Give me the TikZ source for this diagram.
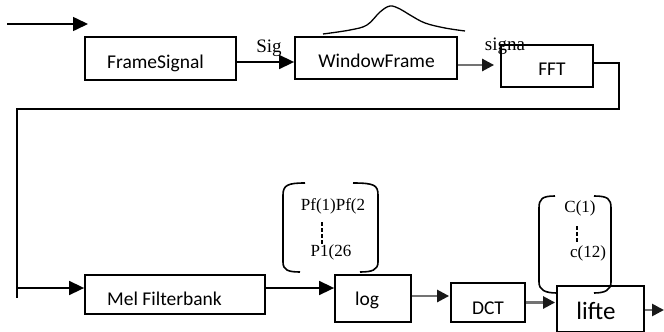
\documentclass[tikz,border=0pt]{standalone}
\usepackage{fontspec}
\setmainfont{Liberation Serif}
\newfontfamily\boxfont{Carlito}
\usetikzlibrary{arrows.meta,calc}
\begin{document}
\begin{tikzpicture}[x=1pt,y=-1pt,
  blk/.style={draw,line width=1.8pt,inner sep=0pt},
  blab/.style={font=\boxfont\fontsize{19.5}{22}\selectfont,inner sep=0pt,anchor=base},
  arr/.style={line width=1.6pt,-{Triangle[length=15pt,width=14pt]}},
  garr/.style={draw=black!55,line width=2.6pt,-{Triangle[length=12pt,width=12pt,color=black!90,fill=black!90]}},
  serif/.style={font=\fontsize{19}{22}\selectfont,inner sep=0pt,anchor=base},
  vec/.style={font=\fontsize{17}{20}\selectfont,inner sep=0pt,anchor=base},
  brk/.style={line width=1.6pt},
  dsh/.style={line width=1.3pt,dash pattern=on 4pt off 2pt},
  wire/.style={line width=1.6pt}
  ]
\useasboundingbox (0,0) rectangle (664,332);

% boxes
\node[blk,minimum width=151pt,minimum height=43pt] (fs) at (160.5,58.5) {};
\node[blk,minimum width=162pt,minimum height=42pt] (wf) at (376,58) {};
\node[blk,minimum width=92pt,minimum height=42pt] (fft) at (547,66) {};
\node[blk,minimum width=180pt,minimum height=39pt] (mel) at (175,294.5) {};
\node[blk,minimum width=76pt,minimum height=47pt] (log) at (373,298.5) {};
\node[blk,minimum width=74pt,minimum height=39pt] (dct) at (488,302.5) {};
\node[blk,minimum width=87pt,minimum height=46pt] (lif) at (600.5,309) {};

% box texts
\node[blab] (fsT) at (155.5,68) {FrameSignal};
\node[blab] (wfT) at (376.5,67) {WindowFrame};
\node[blab] (fftT) at (552,75) {FFT};
\node[blab] (melT) at (164.5,305) {Mel Filterbank};
\node[blab] (logT) at (367,305) {log};
\node[blab] (dctT) at (488,314) {DCT};
\node[blab,font=\boxfont\fontsize{25}{28}\selectfont] (lifT) at (596,319) {lifte};

% labels
\node[serif] (sig) at (269,52) {Sig};
\node[serif] (signa) at (505,50) {signa};
\node[vec] (pf1) at (333,210) {Pf(1)Pf(2};
\node[vec] (pf26) at (331,256) {P1(26};
\node[vec] (c1) at (580,212) {C(1)};
\node[vec] (c12) at (588,257) {c(12)};

% window curve
\draw[line width=1.3pt] plot[smooth,tension=0.6] coordinates {(323,34) (350,30) (367,25) (380,12) (390,6) (400,9) (410,15) (425,23) (445,28) (465,31)};

% brackets
\draw[brk] (305,183) .. controls (288,183) and (283,185) .. (283,195) -- (283,262) .. controls (283,270) and (288,272) .. (300,272);
\draw[brk] (353,183) .. controls (374,183) and (378,185) .. (378,195) -- (378,262) .. controls (378,270) and (372,272) .. (360,272);
\draw[brk] (555,196) .. controls (542,196) and (539,199) .. (539,208) -- (539,282) .. controls (539,290) and (545,293) .. (557,293);
\draw[brk] (594,196) .. controls (608,196) and (611,199) .. (611,208) -- (611,282) .. controls (611,290) and (605,293) .. (594,293);
\draw[dsh] (322,222) -- (322,245);
\draw[dsh] (577,226) -- (577,242);

% connectors
\coordinate (in0) at (7,24);
\coordinate (in1) at (88,24);
\draw[arr] (in0) -- (in1);
\draw[arr] ($(fs.east)+(0,3.5)$) -- ($(fs.east -| wf.west)+(0,3.5)$);
\draw[garr] ($(wf.east)+(0,7)$) -- ($(wf.east -| fft.west)+(-6,7)$);
\coordinate (r1) at (619,109);
\coordinate (l1) at (17,109);
\coordinate (l2) at (17,298);
\coordinate (l3) at (17,288);
\draw[wire] ($(fft.east)+(0,-3)$) -| (r1) -- (l1) -- (l2);
\draw[arr] (l3) -- (l3 -| mel.west);
\draw[arr] ($(mel.east)+(0,-6.5)$) -- ($(mel.east -| log.west)+(0,-6.5)$);
\draw[garr] ($(log.east)+(0,-2.5)$) -- ($(log.east -| dct.west)+(-1,-2.5)$);
\draw[garr] (dct.east) -- ($(dct.east -| lif.west)+(-1,0)$);
\coordinate (out) at (664,310);
\draw[garr] ($(lif.east)+(0,1)$) -- (out);
\end{tikzpicture}
\end{document}
